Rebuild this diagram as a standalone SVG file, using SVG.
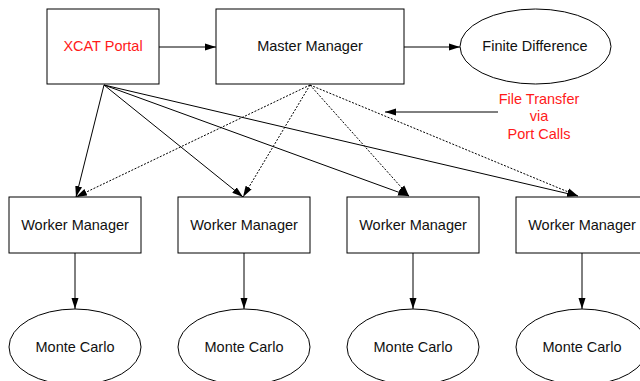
<svg xmlns="http://www.w3.org/2000/svg" width="640" height="381" viewBox="0 0 640 381">
<defs>
<marker id="ah" markerUnits="userSpaceOnUse" markerWidth="12" markerHeight="8" refX="11" refY="4" orient="auto">
<path d="M0,0.5 L11,4 L0,7.5 Z" fill="#000"/>
</marker>
<style>
.box{fill:#fff;stroke:#000;stroke-width:1}
.t{font-family:"Liberation Sans",Arial,sans-serif;font-size:14.5px;fill:#111;text-anchor:middle}
.red{fill:#ff1a1a}
.c{stroke:#000;stroke-width:1;fill:none;marker-end:url(#ah)}
.d{stroke-dasharray:2,1.5}
</style>
</defs>
<rect width="640" height="381" fill="#fff"/>
<g id="connectors">
<line class="c" x1="159" y1="47" x2="216" y2="47"/>
<line class="c" x1="404" y1="47" x2="460" y2="47"/>
<line class="c" x1="498" y1="112" x2="385" y2="112"/>
<line class="c" x1="104" y1="85" x2="76" y2="197"/>
<line class="c" x1="104" y1="85" x2="243" y2="197"/>
<line class="c" x1="104" y1="85" x2="409" y2="196"/>
<line class="c" x1="104" y1="85" x2="578" y2="196"/>
<line class="c d" x1="310" y1="85" x2="76" y2="197"/>
<line class="c d" x1="310" y1="85" x2="243" y2="197"/>
<line class="c d" x1="310" y1="85" x2="409" y2="196"/>
<line class="c d" x1="310" y1="85" x2="578" y2="196"/>
<line class="c" x1="75" y1="253" x2="75" y2="309"/>
<line class="c" x1="244" y1="253" x2="244" y2="309"/>
<line class="c" x1="413" y1="253" x2="413" y2="309"/>
<line class="c" x1="582" y1="253" x2="582" y2="309"/>
</g>
<g id="xcat"><rect class="box" x="47" y="9" width="112" height="75"/><text class="t red" x="103" y="51">XCAT Portal</text></g>
<g id="master"><rect class="box" x="216" y="9" width="188" height="75"/><text class="t" x="310" y="51">Master Manager</text></g>
<g id="fd"><ellipse class="box" cx="535.5" cy="46.5" rx="75.5" ry="37.5"/><text class="t" x="535" y="51">Finite Difference</text></g>
<g id="label"><text class="t red" x="539" y="104">File Transfer</text><text class="t red" x="539" y="121">via</text><text class="t red" x="539" y="139">Port Calls</text></g>
<g id="wm1"><rect class="box" x="9" y="197" width="132" height="56"/><text class="t" x="75" y="230">Worker Manager</text></g>
<g id="wm2"><rect class="box" x="178" y="197" width="132" height="56"/><text class="t" x="244" y="230">Worker Manager</text></g>
<g id="wm3"><rect class="box" x="347" y="197" width="132" height="56"/><text class="t" x="413" y="230">Worker Manager</text></g>
<g id="wm4"><rect class="box" x="516" y="197" width="132" height="56"/><text class="t" x="582" y="230">Worker Manager</text></g>
<g id="mc1"><ellipse class="box" cx="75" cy="347" rx="66" ry="38"/><text class="t" x="75" y="352">Monte Carlo</text></g>
<g id="mc2"><ellipse class="box" cx="244" cy="347" rx="66" ry="38"/><text class="t" x="244" y="352">Monte Carlo</text></g>
<g id="mc3"><ellipse class="box" cx="413" cy="347" rx="66" ry="38"/><text class="t" x="413" y="352">Monte Carlo</text></g>
<g id="mc4"><ellipse class="box" cx="582" cy="347" rx="66" ry="38"/><text class="t" x="582" y="352">Monte Carlo</text></g>
</svg>
